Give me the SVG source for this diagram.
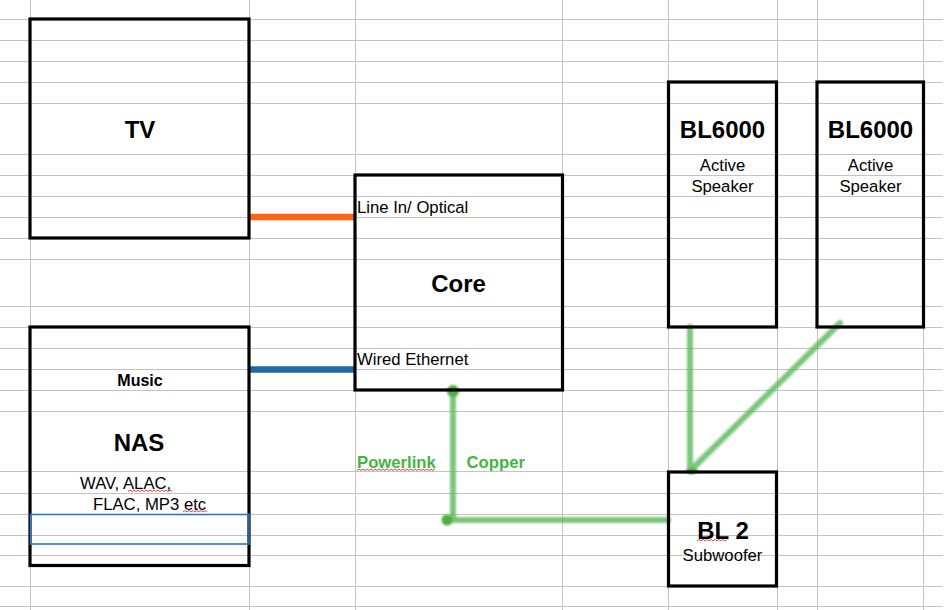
<svg xmlns="http://www.w3.org/2000/svg" width="947" height="610" viewBox="0 0 947 610">
<style>
.grid line{stroke:#c3c3c3;stroke-width:1}
.box{fill:none;stroke:#000;stroke-width:3.2}
.t{font-family:"Liberation Sans",Arial,sans-serif;fill:#000}
.b{font-weight:bold;font-size:24px;text-anchor:middle}
.n{font-size:16.7px}
.c{text-anchor:middle}
.g{font-family:"Liberation Sans",Arial,sans-serif;font-weight:bold;font-size:16.7px;fill:#43b543}
.sq{fill:none;stroke:#e03030;stroke-width:0.9}
.gl{stroke:#5cb85c;stroke-width:6;stroke-linecap:round;fill:none;opacity:0.8;filter:url(#blur)}
.dot{fill:#4fae3f;filter:url(#blur)}
</style>
<defs>
<filter id="blur" x="-20%" y="-20%" width="140%" height="140%"><feGaussianBlur stdDeviation="1.2"/></filter>
</defs>
<rect width="947" height="610" fill="#fff"/>
<g class="grid">
<line x1="30.5" y1="0" x2="30.5" y2="610"/>
<line x1="249.5" y1="0" x2="249.5" y2="610"/>
<line x1="355.5" y1="0" x2="355.5" y2="610"/>
<line x1="562.5" y1="0" x2="562.5" y2="610"/>
<line x1="668.5" y1="0" x2="668.5" y2="610"/>
<line x1="777.5" y1="0" x2="777.5" y2="610"/>
<line x1="817.5" y1="0" x2="817.5" y2="610"/>
<line x1="923.5" y1="0" x2="923.5" y2="610"/>
<line x1="0" y1="19.5" x2="943" y2="19.5"/>
<line x1="0" y1="40.5" x2="943" y2="40.5"/>
<line x1="0" y1="61.5" x2="943" y2="61.5"/>
<line x1="0" y1="82.5" x2="943" y2="82.5"/>
<line x1="0" y1="103.5" x2="943" y2="103.5"/>
<line x1="0" y1="154.5" x2="943" y2="154.5"/>
<line x1="0" y1="175.5" x2="943" y2="175.5"/>
<line x1="0" y1="196.5" x2="943" y2="196.5"/>
<line x1="0" y1="217.5" x2="943" y2="217.5"/>
<line x1="0" y1="238.5" x2="943" y2="238.5"/>
<line x1="0" y1="259.5" x2="943" y2="259.5"/>
<line x1="0" y1="306.5" x2="943" y2="306.5"/>
<line x1="0" y1="327.5" x2="943" y2="327.5"/>
<line x1="0" y1="348.5" x2="943" y2="348.5"/>
<line x1="0" y1="369.5" x2="943" y2="369.5"/>
<line x1="0" y1="390.5" x2="943" y2="390.5"/>
<line x1="0" y1="411.5" x2="943" y2="411.5"/>
<line x1="0" y1="471.5" x2="943" y2="471.5"/>
<line x1="0" y1="493.5" x2="943" y2="493.5"/>
<line x1="0" y1="514.5" x2="943" y2="514.5"/>
<line x1="0" y1="535.5" x2="943" y2="535.5"/>
<line x1="0" y1="555.5" x2="943" y2="555.5"/>
<line x1="0" y1="586.5" x2="943" y2="586.5"/>
<line x1="0" y1="606.5" x2="943" y2="606.5"/>
</g>
<g id="connectors">
<line x1="249" y1="217" x2="355" y2="217" stroke="#ff6418" stroke-width="6.5"/>
<line x1="249" y1="369.5" x2="355" y2="369.5" stroke="#1f6aa5" stroke-width="6.5"/>
<path class="gl" d="M453,390 L453,518 M447,520 L668,520"/>
<path class="gl" d="M690,327 L690,471 M690,471 L840,323"/>
<circle class="dot" cx="453" cy="391" r="6"/>
<circle class="dot" cx="447" cy="520" r="5.5"/>
<ellipse class="dot" cx="692" cy="471" rx="6" ry="3"/>
</g>
<g id="tv">
<rect class="box" x="30" y="19" width="219" height="219"/>
<text class="t b" x="140" y="138">TV</text>
</g>
<g id="nas">
<rect class="box" x="30" y="327" width="219" height="238.5"/>
<rect x="30.5" y="514.5" width="218.5" height="29.5" fill="none" stroke="#2a78c8" stroke-width="1.6"/>
<text class="t b" x="140" y="386" style="font-size:16px">Music</text>
<text class="t b" x="139" y="451">NAS</text>
<text class="t n" x="80" y="489">WAV, ALAC,</text>
<text class="t n" x="93" y="509.5">FLAC, MP3 etc</text>
<path class="sq" d="M128,491.5 l2,-1.5 l2,1.5 l2,-1.5 l2,1.5 l2,-1.5 l2,1.5 l2,-1.5 l2,1.5 l2,-1.5 l2,1.5 l2,-1.5 l2,1.5 l2,-1.5 l2,1.5 l2,-1.5 l2,1.5 l2,-1.5 l2,1.5 l2,-1.5 l2,1.5 l2,-1.5 l2,1.5"/>
<path class="sq" d="M183,512 l2,-1.5 l2,1.5 l2,-1.5 l2,1.5 l2,-1.5 l2,1.5 l2,-1.5 l2,1.5 l2,-1.5 l2,1.5 l2,-1.5 l2,1.5"/>
</g>
<g id="core">
<rect class="box" x="355" y="175" width="207.5" height="215"/>
<text class="t n" x="357" y="213">Line In/ Optical</text>
<text class="t b" x="458.5" y="291.5">Core</text>
<text class="t n" x="357" y="365">Wired Ethernet</text>
</g>
<g id="labels">
<text class="g" x="357" y="467.5">Powerlink</text>
<text class="g" x="466.5" y="467.5">Copper</text>
<path class="sq" d="M357,470.5 l2,-1.5 l2,1.5 l2,-1.5 l2,1.5 l2,-1.5 l2,1.5 l2,-1.5 l2,1.5 l2,-1.5 l2,1.5 l2,-1.5 l2,1.5 l2,-1.5 l2,1.5 l2,-1.5 l2,1.5 l2,-1.5 l2,1.5 l2,-1.5 l2,1.5 l2,-1.5 l2,1.5 l2,-1.5 l2,1.5 l2,-1.5 l2,1.5 l2,-1.5 l2,1.5 l2,-1.5 l2,1.5 l2,-1.5 l2,1.5 l2,-1.5 l2,1.5 l2,-1.5 l2,1.5 l2,-1.5 l2,1.5 l2,-1.5"/>
</g>
<g id="bl6000-1">
<rect class="box" x="668.5" y="82" width="108" height="245"/>
<text class="t b" x="722.5" y="137.5">BL6000</text>
<text class="t n c" x="722.5" y="171">Active</text>
<text class="t n c" x="722.5" y="192">Speaker</text>
</g>
<g id="bl6000-2">
<rect class="box" x="817" y="82" width="106.5" height="245"/>
<text class="t b" x="870.5" y="137.5">BL6000</text>
<text class="t n c" x="870.5" y="171">Active</text>
<text class="t n c" x="870.5" y="192">Speaker</text>
</g>
<g id="bl2">
<rect class="box" x="668.5" y="472" width="108" height="114"/>
<text class="t b" x="723" y="538.5">BL 2</text>
<text class="t n c" x="722.5" y="561">Subwoofer</text>
<path class="sq" d="M697,541 l2,-1.5 l2,1.5 l2,-1.5 l2,1.5 l2,-1.5 l2,1.5 l2,-1.5 l2,1.5 l2,-1.5 l2,1.5 l2,-1.5 l2,1.5 l2,-1.5 l2,1.5 l2,-1.5"/>
</g>
</svg>
